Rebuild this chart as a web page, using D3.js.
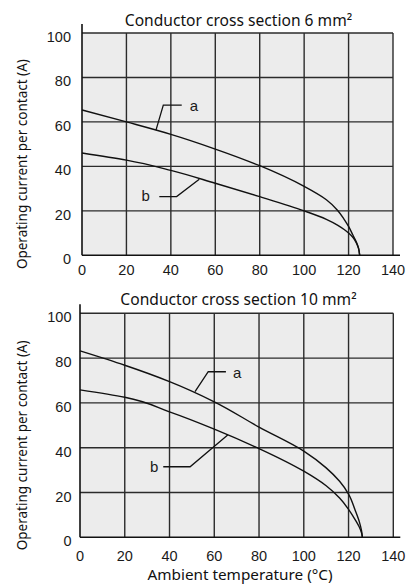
<!DOCTYPE html>
<html><head><meta charset="utf-8">
<script src="https://cdn.jsdelivr.net/npm/d3@7"></script>
<style>
html,body{margin:0;padding:0;background:#fff;}
svg{display:block;}
</style></head>
<body>
<svg id="c" width="406" height="586"></svg>
<script>
// ---- data ----
const xTicks = [0,20,40,60,80,100,120,140];
const yTicks = [0,20,40,60,80,100];
const titles = ["Conductor cross section 6 mm²", "Conductor cross section 10 mm²"];
const yTitle = "Operating current per contact (A)";
const xTitle = "Ambient temperature (°C)";

// 6 mm²
const temp6a = [0,20,40,60,80,100,110,115,118,120,122,123.5,124.5,125];
const curr6a = [65.4,60,54.4,47.8,40.3,31,25,20.3,16.2,13,9,6,3.2,0];
const temp6b = [0,20,40,60,80,100,110,115,118,120,122,123.5,124.5,125];
const curr6b = [46,42.8,38.2,32.4,26.4,20,16.2,13.6,11.6,10,8,5.6,3,0];
// 10 mm²
const temp10a = [0,20,40,60,80,100,110,116,120,123,124.8,125.8,126.2];
const curr10a = [83.2,76.8,69.5,60.5,49.2,38.5,31,25,19.3,12,7,3,0];
const temp10b = [0,20,40,60,80,100,110,116,120,123,124.8,125.8,126.2];
const curr10b = [65.8,62.5,56,48.3,39.6,29.5,23,17.5,12.5,7.8,4.6,2,0];

// annotation leaders (data coords)
const lead6a = [[33.3,56.3],[36.6,67.6],[44.9,67.6]];
const lab6a = [50.4,67.2];
const lead6b = [[34.8,26.4],[42.6,26.4],[52.8,34.2]];
const lab6b = [28.7,27.1];
const lead10a = [[51.4,65],[57.3,73.9],[65.2,73.9]];
const lab10a = [70.2,73.3];
const lead10b = [[37.2,31.5],[49.2,31.5],[66,45.7]];
const lab10b = [33.1,31.5];

const charts = [
  {title: titles[0], ta: temp6a, ca: curr6a, tb: temp6b, cb: curr6b,
   la: lead6a, lla: lab6a, lb: lead6b, llb: lab6b,
   x0: 82, x1: 393, yTop: 33, yBot: 255.3, titleY: 25.5, xLabY: 275, yLabX: 71, yTitleX: 27, showX: false},
  {title: titles[1], ta: temp10a, ca: curr10a, tb: temp10b, cb: curr10b,
   la: lead10a, lla: lab10a, lb: lead10b, llb: lab10b,
   x0: 80, x1: 393.3, yTop: 313.3, yBot: 537.3, titleY: 305, xLabY: 561, yLabX: 71.5, yTitleX: 27, showX: true}
];

const svg = d3.select("#c");
const numFont = "'Liberation Sans',Arial,sans-serif";
const txtFont = "'Noto Sans',sans-serif";

charts.forEach(c => {
  const x = d3.scaleLinear().domain([0,140]).range([c.x0, c.x1]);
  const y = d3.scaleLinear().domain([0,100]).range([c.yBot, c.yTop]);
  const g = svg.append("g");

  g.append("rect").attr("x", x(0)).attr("y", y(100))
    .attr("width", x(140)-x(0)).attr("height", y(0)-y(100))
    .attr("fill", "#ececec");

  // grid
  g.selectAll("line.v").data(xTicks.slice(1)).join("line")
    .attr("x1", d=>x(d)).attr("x2", d=>x(d)).attr("y1", y(100)).attr("y2", y(0))
    .attr("stroke", "#2b2b2b").attr("stroke-width", 1.4);
  g.selectAll("line.h").data(yTicks.slice(1)).join("line")
    .attr("x1", x(0)).attr("x2", x(140)).attr("y1", d=>y(d)).attr("y2", d=>y(d))
    .attr("stroke", "#2b2b2b").attr("stroke-width", 1.4);

  // axes lines (extended)
  g.append("line").attr("x1", x(0)).attr("x2", x(0)).attr("y1", y(100)-9).attr("y2", y(0))
    .attr("stroke", "#111").attr("stroke-width", 1.6);
  g.append("line").attr("x1", x(0)).attr("x2", x(140)+7).attr("y1", y(0)).attr("y2", y(0))
    .attr("stroke", "#111").attr("stroke-width", 1.6);

  // tick labels
  g.selectAll("text.yt").data(yTicks).join("text")
    .attr("x", c.yLabX).attr("y", d=>y(d)+9)
    .attr("text-anchor", "end").attr("font-family", numFont).attr("font-size", 14.5)
    .attr("fill", "#1a1a1a").text(d=>d);
  g.selectAll("text.xt").data(xTicks).join("text")
    .attr("x", d=>x(d)).attr("y", c.xLabY)
    .attr("text-anchor", "middle").attr("font-family", numFont).attr("font-size", 14.5)
    .attr("fill", "#1a1a1a").text(d=>d);

  // title
  g.append("text").attr("x", 238.5).attr("y", c.titleY).attr("text-anchor", "middle")
    .attr("font-family", txtFont).attr("font-size", 15.6).attr("fill", "#111").text(c.title);

  // y title
  const cy = (c.yTop + c.yBot)/2 + 20;
  g.append("text").attr("transform", `translate(${c.yTitleX},${cy}) rotate(-90)`)
    .attr("text-anchor", "middle").attr("font-family", txtFont).attr("font-size", 13.5)
    .attr("fill", "#111").text(yTitle);

  // curves
  const line = d3.line().x(d=>x(d[0])).y(d=>y(d[1])).curve(d3.curveMonotoneY);
  const da = c.ta.map((t,i)=>[t, c.ca[i]]);
  const db = c.tb.map((t,i)=>[t, c.cb[i]]);
  [da, db].forEach(d => g.append("path").attr("d", line(d)).attr("fill","none")
    .attr("stroke","#111").attr("stroke-width",1.4));

  // leaders
  const lin = d3.line().x(d=>x(d[0])).y(d=>y(d[1]));
  [c.la, c.lb].forEach(d => g.append("path").attr("d", lin(d)).attr("fill","none")
    .attr("stroke","#111").attr("stroke-width",1.3));
  g.append("text").attr("x", x(c.lla[0])).attr("y", y(c.lla[1])+5).attr("text-anchor","middle")
    .attr("font-family", numFont).attr("font-size", 15).attr("fill","#1a1a1a").text("a");
  g.append("text").attr("x", x(c.llb[0])).attr("y", y(c.llb[1])+5.5).attr("text-anchor","middle")
    .attr("font-family", numFont).attr("font-size", 15).attr("fill","#1a1a1a").text("b");

  if (c.showX) {
    g.append("text").attr("x", 240).attr("y", 580).attr("text-anchor","middle")
      .attr("font-family", txtFont).attr("font-size", 15.3).attr("fill","#111").text(xTitle);
  }
});
</script>
</body></html>
